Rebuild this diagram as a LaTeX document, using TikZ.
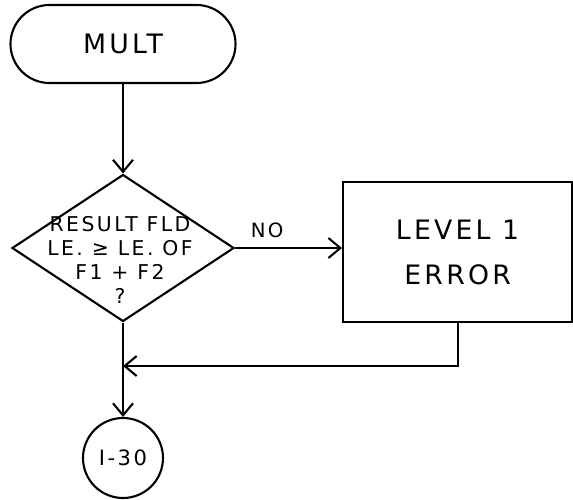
\documentclass[tikz,border=0pt]{standalone}
\usepackage{fontspec}
\setmainfont[LetterSpace=12]{DejaVu Sans}
\usetikzlibrary{shapes.geometric,arrows.meta}

\begin{document}
\begin{tikzpicture}[
        caixa/.style={draw, line width=1.5pt, inner sep=0pt},
        seta/.style={line width=1.5pt, -{Straight Barb[length=3mm, width=5mm, line width=1.5pt]}}]
        % Moldura
        \useasboundingbox (0,0) rectangle (14.325,-12.475);

        % Blocos
        \node[caixa, rounded corners=0.975cm, minimum width=5.625cm, minimum height=1.95cm,
            font=\fontsize{19}{21}\selectfont] (mult) at (3.075,-1.1) {MULT};
        \node[caixa, diamond, minimum width=5.55cm, minimum height=3.675cm] (teste) at (3.075,-6.2) {};
        \node[align=center, font=\fontsize{14.5}{17}\selectfont] (textoteste) at (3.0,-6.5)
            {RESULT FLD\\LE. ≥ LE. OF\\F1 + F2\\?};
        \node[caixa, minimum width=5.725cm, minimum height=3.5cm, align=center,
            font=\fontsize{19}{32}\selectfont] (erro) at (11.44,-6.3) {LEVEL 1\\ERROR};
        \node[caixa, circle, minimum size=2cm, font=\fontsize{15}{17}\selectfont] (saida) at (3.075,-11.45) {I-30};

        % Ponto de retorno
        \coordinate (volta) at (3.075,-9.15);

        % Ligações
        \draw[seta] (mult) -- (teste);
        \draw[seta] (teste.east) -- (erro.west |- teste.east)
            node[pos=0.3, above=3pt, font=\fontsize{14}{16}\selectfont] (nao) {NO};
        \draw[seta] (erro.south) |- (volta);
        \draw[seta] (teste.south) -- (saida.north);
    \end{tikzpicture}
\end{document}
